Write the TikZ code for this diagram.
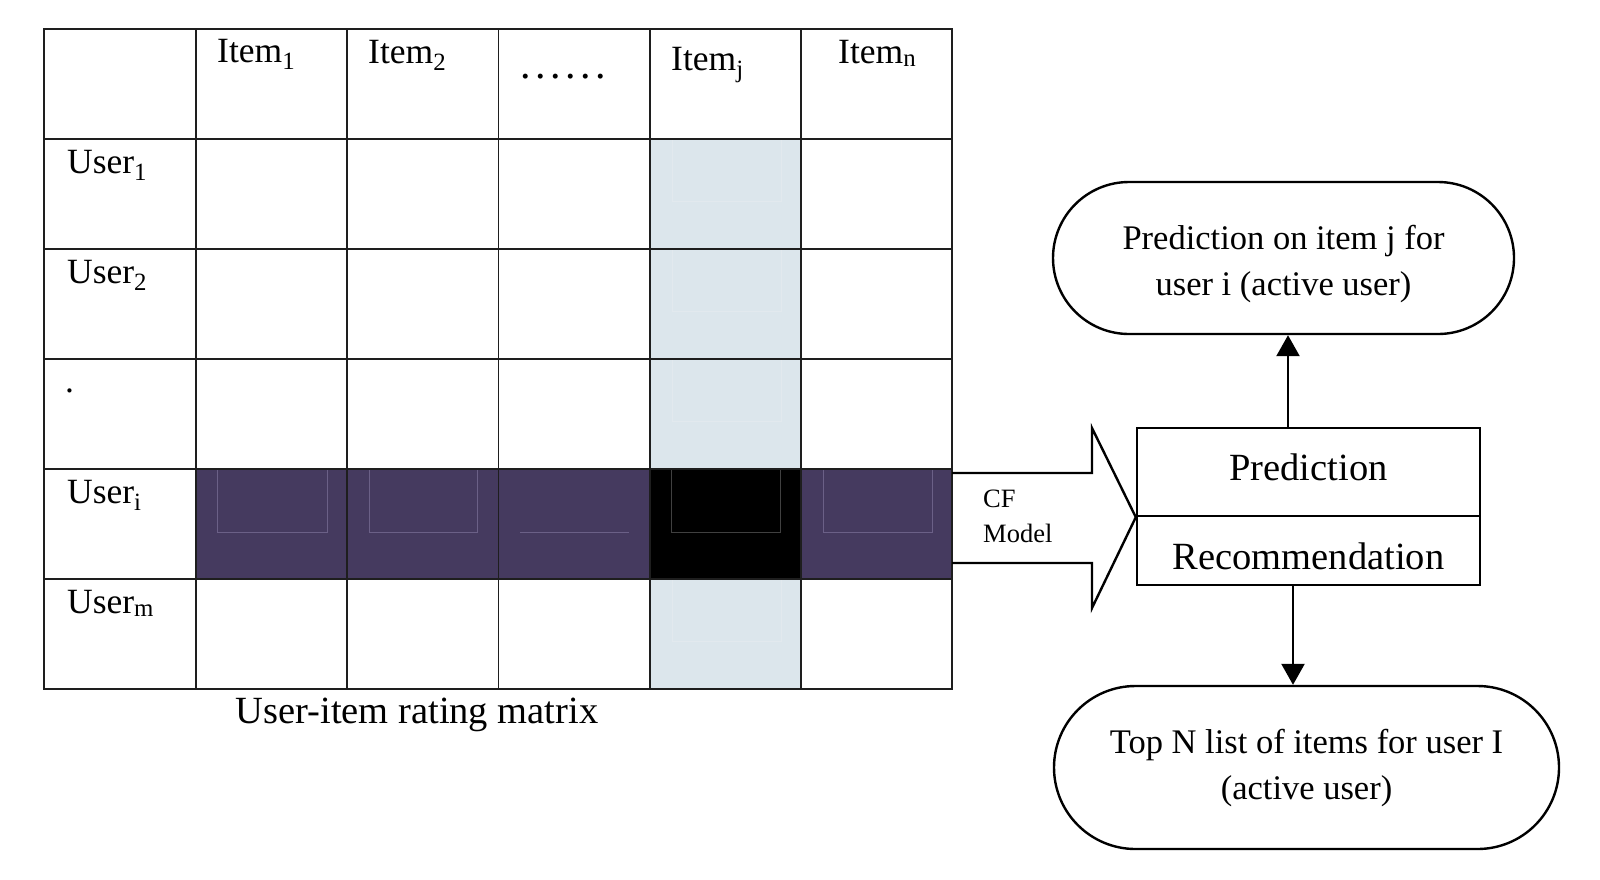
\documentclass[tikz,border=0pt]{standalone}
\usepackage{fontspec}
\setmainfont{Liberation Serif}
\usetikzlibrary{arrows.meta,calc}
\definecolor{purp}{HTML}{453A5F}
\definecolor{lblue}{HTML}{DCE6EC}
\definecolor{purpline}{HTML}{6B6087}
\definecolor{blueline}{HTML}{E2E9EE}
\definecolor{gridc}{HTML}{1E1E1E}
\begin{document}
\begin{tikzpicture}[x=1pt,y=-1pt,
  lab/.style={anchor=base west, inner sep=0pt, font=\fontsize{35.5}{40}\selectfont},
  ctext/.style={anchor=base, inner sep=0pt, font=\fontsize{34.5}{40}\selectfont},
  gridline/.style={draw=gridc, line width=1.8pt},
  shapeline/.style={draw=black, line width=2.4pt},
  boxtext/.style={shapeline, inner sep=0pt, minimum width=343pt, font=\fontsize{38.5}{44}\selectfont},
  arr/.style={line width=2.4pt, -{Triangle[length=21pt,width=23pt]}},
  ghost/.style={line width=0.8pt}
]
\useasboundingbox (0,0) rectangle (1600,879);
\fill[white] (0,0) rectangle (1600,879);

% highlighted column j and row i
\fill[lblue] (649.6,139) rectangle (800.8,469);
\fill[lblue] (649.6,579) rectangle (800.8,689);
\fill[purp] (196,469) rectangle (649.6,579);
\fill[purp] (800.8,469) rectangle (952,579);
\fill[black] (649.6,469) rectangle (800.8,579);

% faint artefact outlines
\foreach \yt in {139,249,359,579}
  \draw[blueline,ghost] (672,\yt) -- (672,\yt+62) -- (781,\yt+62) -- (781,\yt);
\draw[purpline,ghost] (217,470) -- (217,532) -- (327,532) -- (327,470);
\draw[purpline,ghost] (369,470) -- (369,532) -- (477,532) -- (477,470);
\draw[purpline,ghost] (520,532) -- (629,532);
\draw[black!75,ghost] (671,470) -- (671,532) -- (780,532) -- (780,470);
\draw[purpline,ghost] (823,470) -- (823,532) -- (932,532) -- (932,470);

% grid
\foreach \x in {196,347.2,498.4,649.6,800.8}
  \draw[gridline] (\x,29) -- (\x,689);
\foreach \y in {139,249,359,469,579}
  \draw[gridline] (44,\y) -- (952,\y);
\draw[gridline] (44,29) rectangle (952,689);

% header labels
\node[lab] (i1) at (217,62) {Item\textsubscript{1}};
\node[lab] (i2) at (368,63) {Item\textsubscript{2}};
\node[lab, font=\fontsize{42}{46}\selectfont] (idots) at (520,78) {.\hspace{4.6pt}.\hspace{4.6pt}.\hspace{4.6pt}.\hspace{4.6pt}.\hspace{4.6pt}.};
\node[lab] (ij) at (671,70) {Item\textsubscript{j}};
\node[lab] (in) at (838,63) {Item\textsubscript{n}};

% row labels
\node[lab] (u1) at (67,173) {User\textsubscript{1}};
\node[lab] (u2) at (67,283) {User\textsubscript{2}};
\node[lab] (ud) at (65,392) {.};
\node[lab] (ui) at (67,503) {User\textsubscript{i}};
\node[lab] (um) at (67,613) {User\textsubscript{m}};

\node[anchor=base, inner sep=0pt, font=\fontsize{38.5}{44}\selectfont] (cap) at (417,723) {User-item rating matrix};

% prediction / recommendation box
\node[boxtext, minimum height=88pt, text height=26pt, text depth=10pt] (pred) at (1308.5,472) {Prediction};
\node[boxtext, minimum height=69pt, text height=37pt, text depth=0pt] (rec) at (1308.5,550.5) {Recommendation};

% block arrow
\draw[shapeline, line join=miter] (952,473) -- (1092,473) -- (1092,428) -- (pred.south west) -- (1092,608) -- (1092,563) -- (952,563);
\node[anchor=base west, inner sep=0pt, font=\fontsize{26.5}{35}\selectfont] (cf) at (983,507) {CF};
\node[anchor=base west, inner sep=0pt, font=\fontsize{26.5}{35}\selectfont] (model) at (983,542) {Model};

% terminals
\node[shapeline, rounded corners=76pt, minimum width=461pt, minimum height=152pt, inner sep=0pt] (top) at (1283.5,258) {};
\node[ctext] (t1) at (1283.5,249) {Prediction on item j for};
\node[ctext] (t2) at (1283.5,295) {user i (active user)};

\node[shapeline, rounded corners=81.5pt, minimum width=505pt, minimum height=163pt, inner sep=0pt] (bot) at (1306.5,767.5) {};
\node[ctext] (b1) at (1306.5,753) {Top N list of items for user I};
\node[ctext] (b2) at (1306.5,799) {(active user)};

% connectors
\coordinate (up) at ([xshift=-20.5pt]pred.north);
\draw[arr] (up) -- (up |- top.south);
\coordinate (dn) at ([xshift=-15.5pt]rec.south);
\draw[arr] (dn) -- (dn |- bot.north);
\end{tikzpicture}
\end{document}
